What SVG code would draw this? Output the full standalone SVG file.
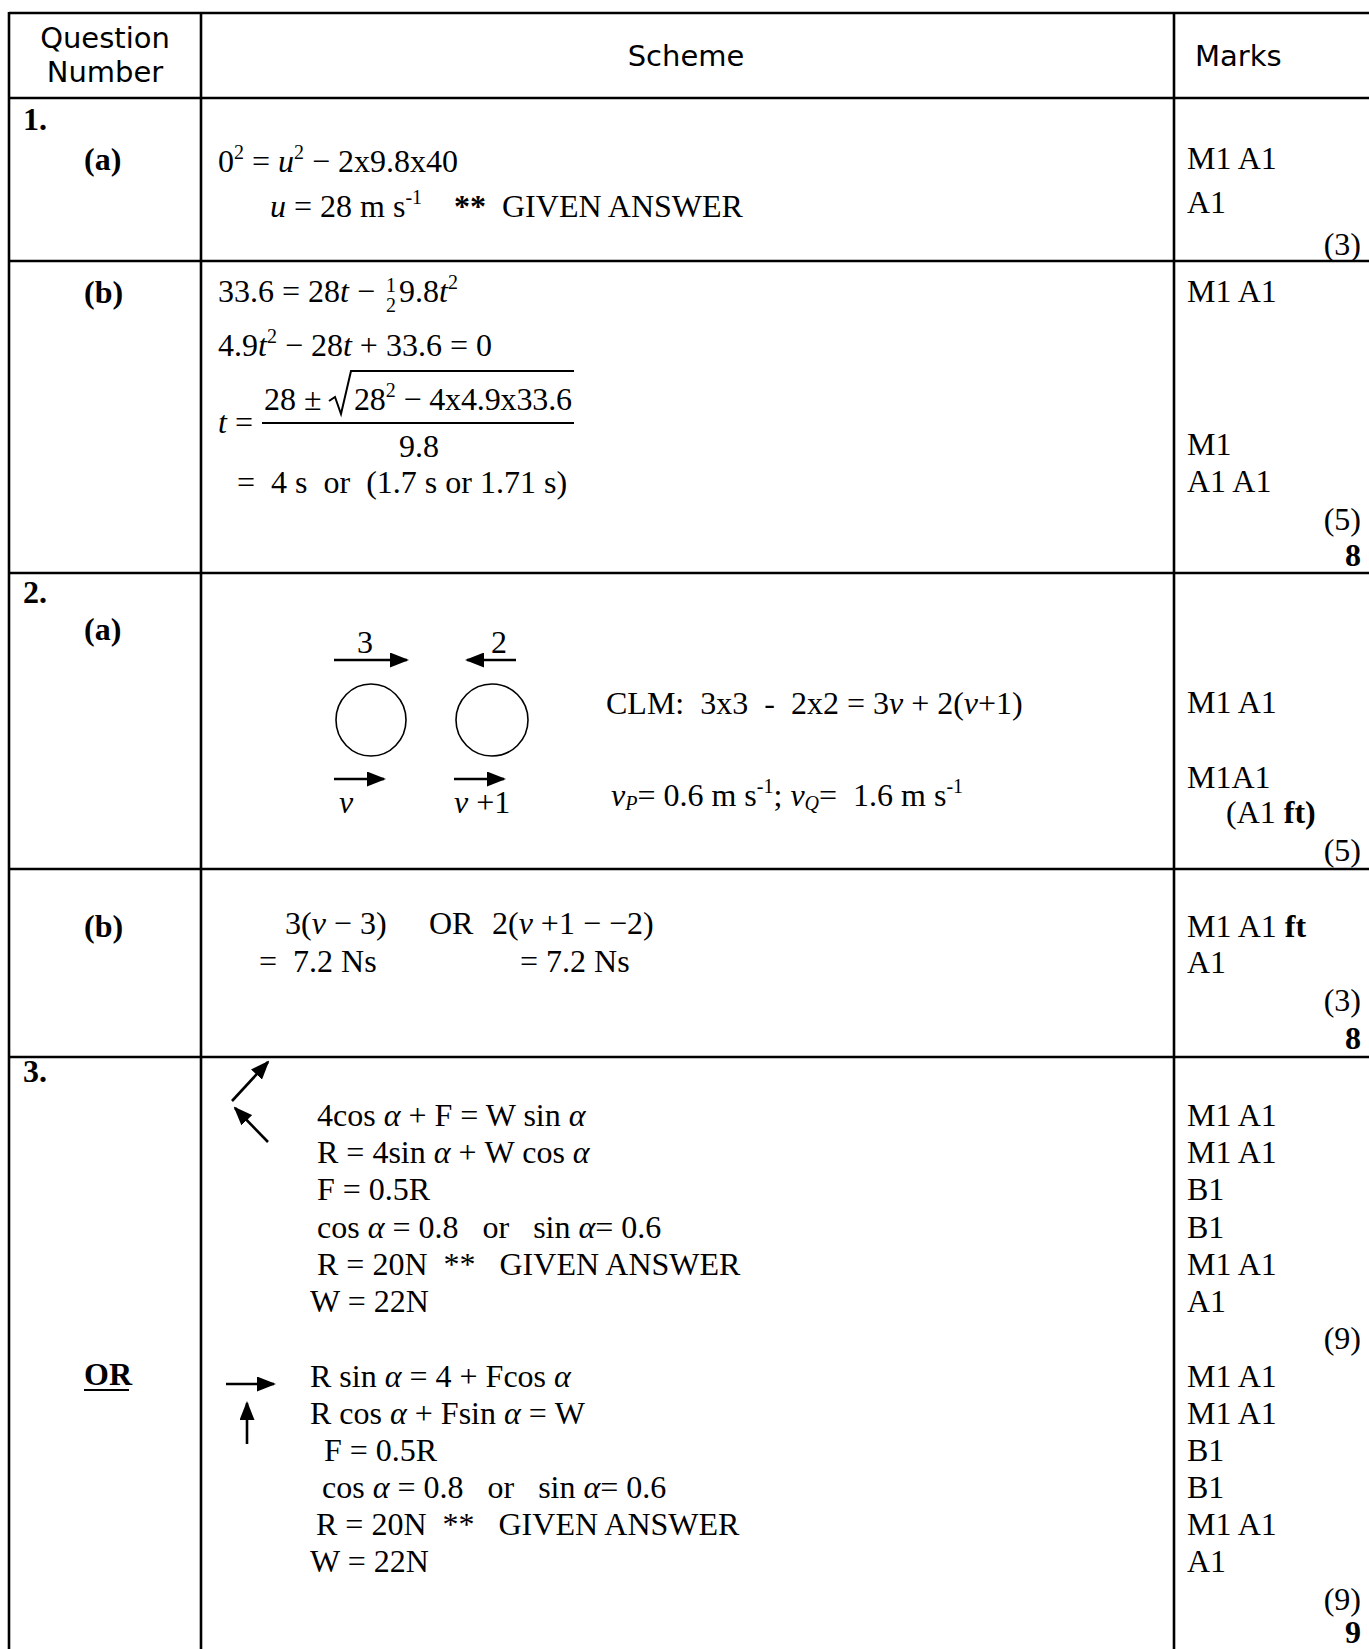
<svg xmlns="http://www.w3.org/2000/svg" width="1369" height="1649" viewBox="0 0 1369 1649">
<style>
.hdr{font-family:"DejaVu Sans",Verdana,sans-serif;font-size:29px;fill:#000}
.t{font-family:"Liberation Serif","Times New Roman",serif;font-size:32px;fill:#000}
.b{font-weight:bold}
.i{font-style:italic}
.sup{font-size:20px}
.sm{font-size:20px}
.r{text-anchor:end}
.c{text-anchor:middle}
.grid line{stroke:#000;stroke-width:2.6}
.arr line{stroke:#000;stroke-width:2.6}
</style>
<defs>
<marker id="ah" viewBox="0 0 19 15" refX="17" refY="7.5" markerUnits="userSpaceOnUse" markerWidth="19" markerHeight="15" orient="auto">
<path d="M0,0 L19,7.5 L0,15 z" fill="#000"/>
</marker>
</defs>
<rect width="1369" height="1649" fill="#fff"/>
<g id="grid" class="grid">
<line x1="9" y1="13" x2="1369" y2="13"/>
<line x1="9" y1="98" x2="1369" y2="98"/>
<line x1="9" y1="261" x2="1369" y2="261"/>
<line x1="9" y1="573" x2="1369" y2="573"/>
<line x1="9" y1="869" x2="1369" y2="869"/>
<line x1="9" y1="1057" x2="1369" y2="1057"/>
<line x1="9" y1="12" x2="9" y2="1649"/>
<line x1="201" y1="12" x2="201" y2="1649"/>
<line x1="1174" y1="12" x2="1174" y2="1649"/>
</g>
<g id="header">
<text class="hdr c" x="105" y="48">Question</text>
<text class="hdr c" x="105" y="82">Number</text>
<text class="hdr c" x="686" y="66">Scheme</text>
<text class="hdr" x="1195" y="66">Marks</text>
</g>
<g id="q1a">
<text class="t b" x="23" y="130">1.</text>
<text class="t b" x="84" y="170">(a)</text>
<text class="t" x="218" y="172">0<tspan class="sup" dy="-13">2</tspan><tspan dy="13"> = </tspan><tspan class="i">u</tspan><tspan class="sup" dy="-13">2</tspan><tspan dy="13"> − 2x9.8x40</tspan></text>
<text class="t" x="270" y="217" xml:space="preserve"><tspan class="i">u</tspan> = 28 m s<tspan class="sup" dy="-13">-1</tspan></text>
<text class="t b" x="454" y="217">**</text>
<text class="t" x="502" y="217">GIVEN ANSWER</text>
<text class="t" x="1187" y="169">M1 A1</text>
<text class="t" x="1187" y="213">A1</text>
<text class="t r" x="1361" y="255">(3)</text>
</g>
<g id="q1b">
<text class="t b" x="84" y="303">(b)</text>
<text class="t" x="218" y="302">33.6 = 28<tspan class="i">t</tspan> −</text>
<text class="t sm c" x="391" y="292">1</text>
<text class="t sm c" x="391" y="312">2</text>
<text class="t" x="399" y="302">9.8<tspan class="i">t</tspan><tspan class="sup" dy="-13">2</tspan></text>
<text class="t" x="218" y="356">4.9<tspan class="i">t</tspan><tspan class="sup" dy="-13">2</tspan><tspan dy="13"> − 28</tspan><tspan class="i">t</tspan> + 33.6 = 0</text>
<text class="t" x="218" y="433"><tspan class="i">t</tspan> =</text>
<text class="t" x="264" y="410">28 ±</text>
<path d="M329,401 L335,397 L341,414 L351,371 L574,371" fill="none" stroke="#000" stroke-width="2"/>
<text class="t" x="354" y="410" textLength="218" lengthAdjust="spacing">28<tspan class="sup" dy="-13">2</tspan><tspan dy="13"> − 4x4.9x33.6</tspan></text>
<line x1="262" y1="423" x2="574" y2="423" stroke="#000" stroke-width="2"/>
<text class="t c" x="419" y="457">9.8</text>
<text class="t" x="237" y="493" xml:space="preserve">=  4 s  or  (1.7 s or 1.71 s)</text>
<text class="t" x="1187" y="302">M1 A1</text>
<text class="t" x="1187" y="455">M1</text>
<text class="t" x="1187" y="492">A1 A1</text>
<text class="t r" x="1361" y="530">(5)</text>
<text class="t b r" x="1361" y="566">8</text>
</g>
<g id="q2a">
<text class="t b" x="23" y="603">2.</text>
<text class="t b" x="84" y="640">(a)</text>
<g class="arr">
<line x1="334" y1="660" x2="407" y2="660" marker-end="url(#ah)"/>
<line x1="516" y1="660" x2="467" y2="660" marker-end="url(#ah)"/>
<ellipse cx="371" cy="720" rx="35" ry="36" fill="none" stroke="#000" stroke-width="1.6"/>
<ellipse cx="492" cy="720" rx="36" ry="36" fill="none" stroke="#000" stroke-width="1.6"/>
<line x1="334" y1="779" x2="384" y2="779" marker-end="url(#ah)"/>
<line x1="454" y1="779" x2="504" y2="779" marker-end="url(#ah)"/>
</g>
<text class="t c" x="365" y="653">3</text>
<text class="t c" x="499" y="653">2</text>
<text class="t i" x="339" y="813">v</text>
<text class="t" x="454" y="813"><tspan class="i">v</tspan> +1</text>
<text class="t" x="606" y="714" xml:space="preserve">CLM:  3x3  -  2x2 = 3<tspan class="i">v</tspan> + 2(<tspan class="i">v</tspan>+1)</text>
<text class="t" x="611" y="806" xml:space="preserve"><tspan class="i">v</tspan><tspan class="i sup" dy="4">P</tspan><tspan dy="-4">= 0.6 m s</tspan><tspan class="sup" dy="-13">-1</tspan><tspan dy="13">; </tspan><tspan class="i">v</tspan><tspan class="i sup" dy="4">Q</tspan><tspan dy="-4">=  1.6 m s</tspan><tspan class="sup" dy="-13">-1</tspan></text>
<text class="t" x="1187" y="713">M1 A1</text>
<text class="t" x="1187" y="788">M1A1</text>
<text class="t" x="1226" y="823">(A1 <tspan class="b">ft)</tspan></text>
<text class="t r" x="1361" y="861">(5)</text>
</g>
<g id="q2b">
<text class="t b" x="84" y="937">(b)</text>
<text class="t" x="285" y="934">3(<tspan class="i">v</tspan> − 3)</text>
<text class="t" x="429" y="934">OR</text>
<text class="t" x="492" y="934">2(<tspan class="i">v</tspan> +1 − −2)</text>
<text class="t" x="259" y="972" xml:space="preserve">=  7.2 Ns</text>
<text class="t" x="520" y="972">= 7.2 Ns</text>
<text class="t" x="1187" y="937">M1 A1 <tspan class="b">ft</tspan></text>
<text class="t" x="1187" y="973">A1</text>
<text class="t r" x="1361" y="1011">(3)</text>
<text class="t b r" x="1361" y="1049">8</text>
</g>
<g id="q3">
<text class="t b" x="23" y="1082">3.</text>
<g class="arr">
<line x1="232" y1="1101" x2="268" y2="1062" marker-end="url(#ah)"/>
<line x1="268" y1="1142" x2="235" y2="1108" marker-end="url(#ah)"/>
</g>
<text class="t" x="317" y="1126">4cos <tspan class="i">α</tspan> + F = W sin <tspan class="i">α</tspan></text>
<text class="t" x="317" y="1163">R = 4sin <tspan class="i">α</tspan> + W cos <tspan class="i">α</tspan></text>
<text class="t" x="317" y="1200">F = 0.5R</text>
<text class="t" x="317" y="1238" xml:space="preserve">cos <tspan class="i">α</tspan> = 0.8   or   sin <tspan class="i">α</tspan>= 0.6</text>
<text class="t" x="317" y="1275" xml:space="preserve">R = 20N  **   GIVEN ANSWER</text>
<text class="t" x="310" y="1312">W = 22N</text>
<text class="t" x="1187" y="1126">M1 A1</text>
<text class="t" x="1187" y="1163">M1 A1</text>
<text class="t" x="1187" y="1200">B1</text>
<text class="t" x="1187" y="1238">B1</text>
<text class="t" x="1187" y="1275">M1 A1</text>
<text class="t" x="1187" y="1312">A1</text>
<text class="t r" x="1361" y="1349">(9)</text>
</g>
<g id="q3or">
<text class="t b" x="84" y="1385">OR</text>
<line x1="84" y1="1390" x2="129" y2="1390" stroke="#000" stroke-width="2.2"/>
<g class="arr">
<line x1="226" y1="1384" x2="274" y2="1384" marker-end="url(#ah)"/>
<line x1="247" y1="1444" x2="247" y2="1403" marker-end="url(#ah)"/>
</g>
<text class="t" x="310" y="1387">R sin <tspan class="i">α</tspan> = 4 + Fcos <tspan class="i">α</tspan></text>
<text class="t" x="310" y="1424">R cos <tspan class="i">α</tspan> + Fsin <tspan class="i">α</tspan> = W</text>
<text class="t" x="324" y="1461">F = 0.5R</text>
<text class="t" x="322" y="1498" xml:space="preserve">cos <tspan class="i">α</tspan> = 0.8   or   sin <tspan class="i">α</tspan>= 0.6</text>
<text class="t" x="316" y="1535" xml:space="preserve">R = 20N  **   GIVEN ANSWER</text>
<text class="t" x="310" y="1572">W = 22N</text>
<text class="t" x="1187" y="1387">M1 A1</text>
<text class="t" x="1187" y="1424">M1 A1</text>
<text class="t" x="1187" y="1461">B1</text>
<text class="t" x="1187" y="1498">B1</text>
<text class="t" x="1187" y="1535">M1 A1</text>
<text class="t" x="1187" y="1572">A1</text>
<text class="t r" x="1361" y="1610">(9)</text>
<text class="t b r" x="1361" y="1643">9</text>
</g>
</svg>
